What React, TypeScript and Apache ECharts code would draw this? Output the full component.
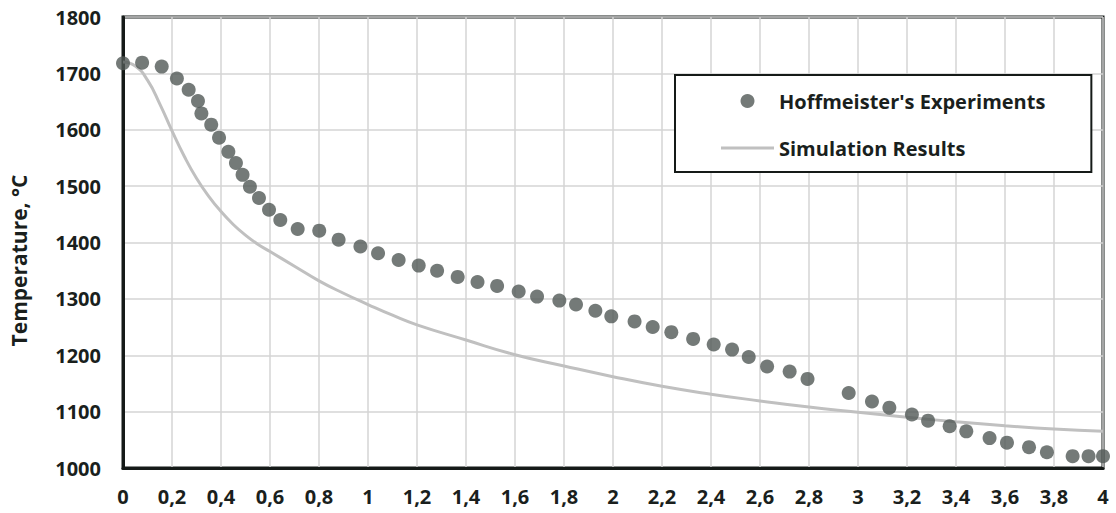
import React, { useEffect, useRef } from "react";
import * as echarts from "echarts";

const expX = [0, 0.078, 0.158, 0.22, 0.268, 0.306, 0.32, 0.36, 0.392, 0.43, 0.461, 0.488, 0.518, 0.555, 0.596, 0.642, 0.713, 0.801, 0.88, 0.969, 1.041, 1.125, 1.207, 1.282, 1.366, 1.447, 1.527, 1.615, 1.69, 1.781, 1.849, 1.928, 1.993, 2.088, 2.162, 2.238, 2.327, 2.411, 2.486, 2.554, 2.629, 2.721, 2.794, 2.962, 3.057, 3.128, 3.22, 3.286, 3.374, 3.442, 3.537, 3.608, 3.698, 3.771, 3.876, 3.941, 4.0];
const expT = [1718, 1719, 1712, 1691, 1671, 1651, 1629, 1609, 1586, 1561, 1541, 1520, 1499, 1479, 1458, 1440, 1424, 1421, 1405, 1393, 1381, 1369, 1359, 1350, 1339, 1330, 1323, 1313, 1304, 1297, 1290, 1279, 1269, 1260, 1250, 1241, 1229, 1219, 1210, 1197, 1180, 1171, 1158, 1133, 1118, 1107, 1095, 1084, 1074, 1065, 1053, 1045, 1037, 1028, 1021, 1021, 1021];

const simX = [0, 0.05, 0.1, 0.15, 0.2, 0.25, 0.3, 0.35, 0.4, 0.45, 0.5, 0.55, 0.6, 0.7, 0.8, 0.9, 1.0, 1.1, 1.2, 1.4, 1.6, 1.8, 2.0, 2.2, 2.4, 2.6, 2.8, 3.0, 3.2, 3.4, 3.6, 3.8, 4.0];
const simT = [1720, 1713, 1688, 1646, 1598, 1553, 1514, 1482, 1455, 1432, 1413, 1397, 1384, 1358, 1332, 1310, 1290, 1271, 1254, 1227, 1201, 1181, 1162, 1145, 1131, 1119, 1108, 1099, 1090, 1082, 1075, 1069, 1065];

const seriesNames = ["Hoffmeister's Experiments", "Simulation Results"];
const yAxisTitle = "Temperature, °C";

export default function App() {
  const ref = useRef<HTMLDivElement>(null);
  useEffect(() => {
    if (!ref.current) return;
    const chart = echarts.init(ref.current, undefined, { renderer: "svg" });
    const font = "Open Sans";
    const txt = "#1a1f1d";
    chart.setOption({
      animation: false,
      backgroundColor: "#fff",
      grid: {
        left: 123,
        right: 13,
        top: 17,
        bottom: 45,
        show: true,
        borderColor: "#151a18",
        borderWidth: 3,
      },
      legend: {
        left: 675,
        top: 75,
        orient: "vertical",
        data: [
          { name: seriesNames[0], icon: "circle" },
          { name: seriesNames[1], icon: "path://M0,0H53V3H0Z" },
        ],
        itemWidth: 53,
        itemHeight: 14,
        itemGap: 27,
        padding: [16, 46, 14, 46],
        borderColor: "#151a18",
        borderWidth: 2,
        backgroundColor: "#fff",
        textStyle: { fontFamily: font, fontWeight: "bold", fontSize: 20, color: txt },
      },
      xAxis: {
        type: "value",
        min: 0,
        max: 4,
        interval: 0.2,
        axisLine: { show: true, lineStyle: { color: "#151a18", width: 3 } },
        axisTick: { show: false },
        splitLine: { show: true, lineStyle: { color: "#d4d4d4", width: 1.5 } },
        axisLabel: {
          margin: 18,
          fontFamily: font,
          fontWeight: "bold",
          fontSize: 20,
          color: txt,
          formatter: (v: number) => String(+v.toFixed(1)).replace(".", ","),
        },
      },
      yAxis: {
        type: "value",
        min: 1000,
        max: 1800,
        interval: 100,
        name: yAxisTitle,
        nameLocation: "middle",
        nameGap: 94,
        nameTextStyle: { fontFamily: font, fontWeight: "bold", fontSize: 21, color: txt, padding: [0, 0, 0, -36] },
        axisLine: { show: true, lineStyle: { color: "#151a18", width: 3 } },
        axisTick: { show: false },
        splitLine: { show: true, lineStyle: { color: "#d4d4d4", width: 1.5 } },
        axisLabel: {
          margin: 22,
          fontFamily: font,
          fontWeight: "bold",
          fontSize: 20,
          color: txt,
          formatter: (v: number) => String(v),
        },
      },
      series: [
        {
          name: seriesNames[1],
          type: "line",
          data: simX.map((x, i) => [x, simT[i]]),
          smooth: 0.5,
          showSymbol: false,
          symbol: "none",
          lineStyle: { color: "#c0c0c0", width: 3 },
          itemStyle: { color: "#c0c0c0" },
          z: 2,
        },
        {
          name: seriesNames[0],
          type: "scatter",
          data: expX.map((x, i) => [x, expT[i]]),
          symbol: "circle",
          symbolSize: 14,
          itemStyle: { color: "#515956" },
          z: 3,
        },
      ],
    });
    return () => chart.dispose();
  }, []);
  return (
    <div
      ref={ref}
      style={{ position: "fixed", left: 0, top: 0, width: 1116, height: 513 }}
    />
  );
}
